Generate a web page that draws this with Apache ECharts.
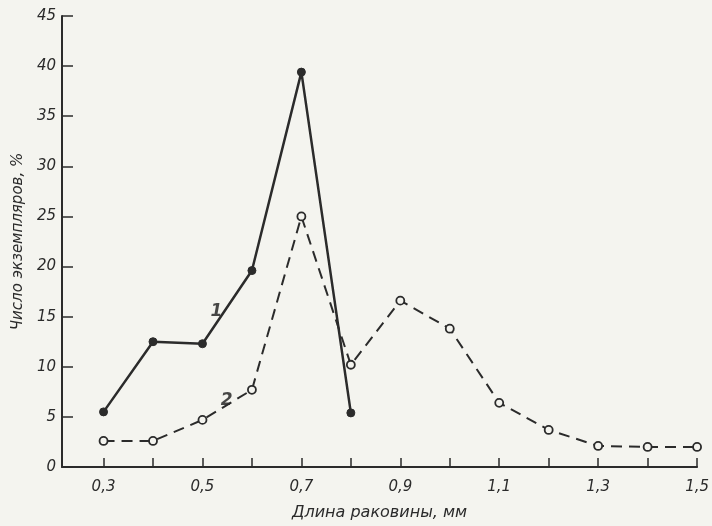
<!DOCTYPE html>
<html>
<head>
<meta charset="utf-8">
<script src="https://cdn.jsdelivr.net/npm/echarts@6/dist/echarts.min.js"></script>
<style>
html,body{margin:0;padding:0;background:#f4f4ef;}
#c{width:712px;height:526px;}
</style>
</head>
<body>
<div id="c"></div>
<script>
// Shell length, mm
var lengths = [0.3, 0.4, 0.5, 0.6, 0.7, 0.8, 0.9, 1.0, 1.1, 1.2, 1.3, 1.4, 1.5];
// Curve 1 (solid, filled dots)
var series1 = [5.5, 12.5, 12.3, 19.6, 39.4, 5.4];
// Curve 2 (dashed, open circles)
var series2 = [2.6, 2.6, 4.7, 7.7, 25.0, 10.2, 16.6, 13.8, 6.4, 3.7, 2.1, 2.0, 2.0];
var xTickValues = [0.3, 0.4, 0.5, 0.6, 0.7, 0.8, 0.9, 1.0, 1.1, 1.2, 1.3, 1.4, 1.5];
var xLabelValues = [0.3, 0.5, 0.7, 0.9, 1.1, 1.3, 1.5];
var xName = 'Длина раковины, мм';
var yName = 'Число экземпляров, %';
var curveLabelText = ['1', '2'];
var curveLabelX = [0.528, 0.549];
var curveLabelY = [15.5, 6.6];

function pairs(xs, ys) { return ys.map(function (v, i) { return [xs[i], v]; }); }

var ink = '#2b2b2b';
var font = 'DejaVu Sans';

var chart = echarts.init(document.getElementById('c'), null, {renderer: 'canvas'});
chart.setOption({
  backgroundColor: '#f4f4ef',
  animation: false,
  grid: {left: 62, right: 9, top: 16, bottom: 57, containLabel: false},
  xAxis: {
    type: 'value', min: 0.216, max: 1.5,
    axisLine: {lineStyle: {color: ink, width: 2}},
    axisTick: {show: true, inside: true, length: 9, lineStyle: {color: ink, width: 1.5}, customValues: xTickValues},
    axisLabel: {
      customValues: xLabelValues, color: ink, fontFamily: font, fontStyle: 'italic', fontSize: 15, margin: 13,
      formatter: function (v) { return v.toFixed(1).replace('.', ','); }
    },
    splitLine: {show: false},
    name: xName, nameLocation: 'middle', nameGap: 38,
    nameTextStyle: {color: ink, fontFamily: font, fontStyle: 'italic', fontSize: 16}
  },
  yAxis: {
    type: 'value', min: 0, max: 45, interval: 5,
    axisLine: {show: true, lineStyle: {color: ink, width: 2}},
    axisTick: {show: true, inside: true, length: 11, lineStyle: {color: ink, width: 1.5}},
    axisLabel: {color: ink, fontFamily: font, fontStyle: 'italic', fontSize: 15, margin: 6},
    splitLine: {show: false},
    name: yName, nameLocation: 'middle', nameGap: 33,
    nameTextStyle: {color: ink, fontFamily: font, fontStyle: 'italic', fontSize: 15}
  },
  series: [
    {
      type: 'line', name: '1', data: pairs(lengths, series1),
      symbol: 'circle', symbolSize: 8,
      lineStyle: {color: ink, width: 2.5},
      itemStyle: {color: ink, borderColor: ink}
    },
    {
      type: 'line', name: '2', data: pairs(lengths, series2),
      symbol: 'circle', symbolSize: 8,
      lineStyle: {color: ink, width: 2, type: [11, 7]},
      itemStyle: {color: '#f4f4ef', borderColor: ink, borderWidth: 1.8}
    },
    {
      type: 'scatter', name: 'labels', silent: true,
      data: curveLabelText.map(function (t, i) { return {value: [curveLabelX[i], curveLabelY[i]], name: t}; }),
      symbol: 'circle', symbolSize: 20,
      itemStyle: {color: 'rgba(0,0,0,0)'},
      label: {show: true, position: 'inside', formatter: function (p) { return p.name; }, color: '#1a1a1a', fontFamily: font, fontStyle: 'italic', fontWeight: 'bold', fontSize: 17, textBorderWidth: 0}
    }
  ]
});
</script>
</body>
</html>
